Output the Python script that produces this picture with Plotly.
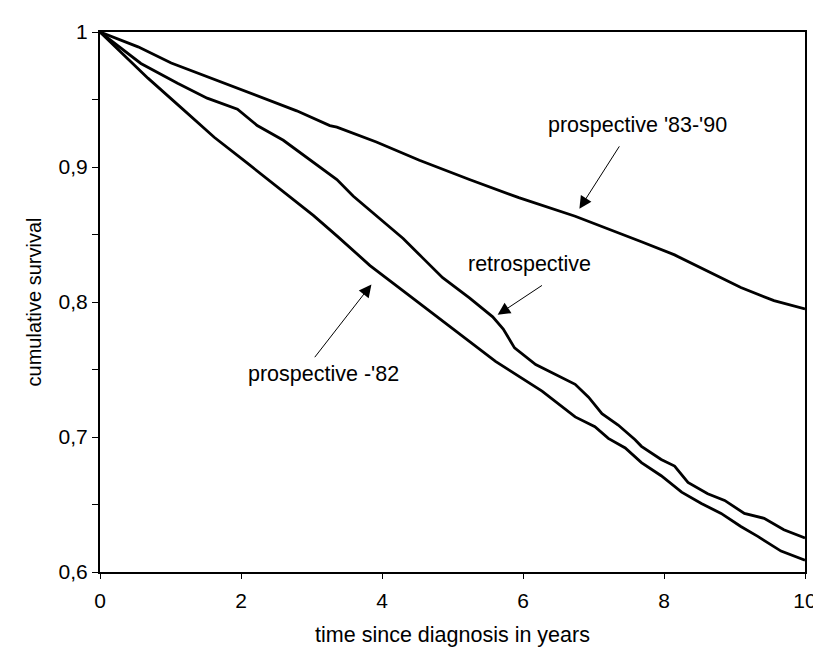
import plotly.graph_objects as go

# prospective '83-'90
x_p8390 = [0, 0.54, 1.01, 1.52, 1.95, 2.32, 2.79, 3.26, 3.36, 3.92, 4.53, 5.24, 5.94, 6.74, 7.21, 7.68, 8.15, 8.62, 9.09, 9.56, 10]
y_p8390 = [1, 0.989, 0.977, 0.967, 0.9585, 0.951, 0.9416, 0.9307, 0.9295, 0.9185, 0.905, 0.8907, 0.8773, 0.8635, 0.8543, 0.8446, 0.8349, 0.8228, 0.8107, 0.801, 0.7949]

# retrospective
x_retro = [0, 0.25, 0.58, 1.10, 1.52, 1.95, 2.23, 2.60, 2.89, 3.36, 3.59, 3.97, 4.30, 4.58, 4.86, 5.24, 5.57, 5.72, 5.88, 6.18, 6.55, 6.74, 6.93, 7.12, 7.35, 7.59, 7.68, 7.96, 8.15, 8.34, 8.62, 8.86, 9.14, 9.42, 9.70, 10]
y_retro = [1, 0.990, 0.9767, 0.962, 0.951, 0.9428, 0.9307, 0.9198, 0.9089, 0.8907, 0.8785, 0.8616, 0.847, 0.8325, 0.818, 0.803, 0.789, 0.780, 0.766, 0.7537, 0.744, 0.739, 0.7295, 0.7173, 0.7089, 0.698, 0.6931, 0.6834, 0.6785, 0.6664, 0.658, 0.653, 0.6434, 0.6398, 0.6313, 0.6252]

# prospective -'82
x_p82 = [0, 0.25, 0.68, 1.15, 1.62, 2.09, 2.56, 3.03, 3.36, 3.83, 4.30, 4.91, 5.61, 6.27, 6.74, 7.02, 7.21, 7.45, 7.68, 7.96, 8.25, 8.53, 8.81, 9.09, 9.33, 9.66, 10]
y_p82 = [1, 0.9876, 0.9658, 0.944, 0.922, 0.9028, 0.8834, 0.864, 0.849, 0.827, 0.8082, 0.784, 0.756, 0.734, 0.7149, 0.7076, 0.699, 0.6919, 0.681, 0.6713, 0.6591, 0.6507, 0.6434, 0.6337, 0.6264, 0.6155, 0.6087]

x_tickvals = [0, 2, 4, 6, 8, 10]
y_tickvals = [0.6, 0.7, 0.8, 0.9, 1.0]
y_ticktext = ["0,6", "0,7", "0,8", "0,9", "1"]
y_minor_tickvals = [0.65, 0.75, 0.85, 0.95]

labels = ["prospective '83-'90", "retrospective", "prospective -'82"]
label_pos = [(7.62, 0.931), (6.09, 0.828), (3.17, 0.747)]
arrow_tails = [(7.38, 0.9164), (6.29, 0.813), (3.03, 0.758)]
arrow_tips = [(6.80, 0.869), (5.64, 0.7905), (3.85, 0.813)]

FONT = "Liberation Sans, Arial, sans-serif"

fig = go.Figure()
for xs, ys in [(x_p8390, y_p8390), (x_retro, y_retro), (x_p82, y_p82)]:
    fig.add_trace(go.Scatter(x=xs, y=ys, mode="lines",
                             line=dict(color="black", width=2.8),
                             showlegend=False, hoverinfo="skip"))

annotations = []
for t, (tx, ty) in zip(labels, label_pos):
    annotations.append(dict(x=tx, y=ty, xref="x", yref="y", text=t, showarrow=False,
                            font=dict(family=FONT, size=21.5, color="black")))
for (ax, ay), (hx, hy) in zip(arrow_tails, arrow_tips):
    annotations.append(dict(x=hx, y=hy, ax=ax, ay=ay, xref="x", yref="y",
                            axref="x", ayref="y", text="", showarrow=True,
                            arrowhead=2, arrowsize=2.5, arrowwidth=1,
                            arrowcolor="black", standoff=0))

fig.update_layout(
    width=821, height=647,
    margin=dict(l=92, r=20, t=18, b=79),
    paper_bgcolor="white", plot_bgcolor="white",
    font=dict(family=FONT, size=21, color="black"),
    annotations=annotations,
    xaxis=dict(range=[0, 10], tickvals=x_tickvals, ticks="outside", ticklen=5,
               tickwidth=1, tickcolor="black", showline=True, linecolor="black",
               linewidth=2, mirror=True, showgrid=False, zeroline=False,
               ticklabelstandoff=4,
               title=dict(text="time since diagnosis in years", standoff=16,
                          font=dict(size=21.5)),
               tickfont=dict(size=21)),
    yaxis=dict(range=[0.6, 1.0], tickvals=y_tickvals, ticktext=y_ticktext,
               ticks="outside", ticklen=6, tickwidth=1, tickcolor="black",
               minor=dict(tickvals=y_minor_tickvals, ticks="outside", ticklen=6,
                          tickwidth=1, tickcolor="black"),
               showline=True, linecolor="black", linewidth=2, mirror=True,
               showgrid=False, zeroline=False,
               title=dict(text="cumulative survival", standoff=12, font=dict(size=20)),
               tickfont=dict(size=21)),
)

fig.write_html("out.html")
